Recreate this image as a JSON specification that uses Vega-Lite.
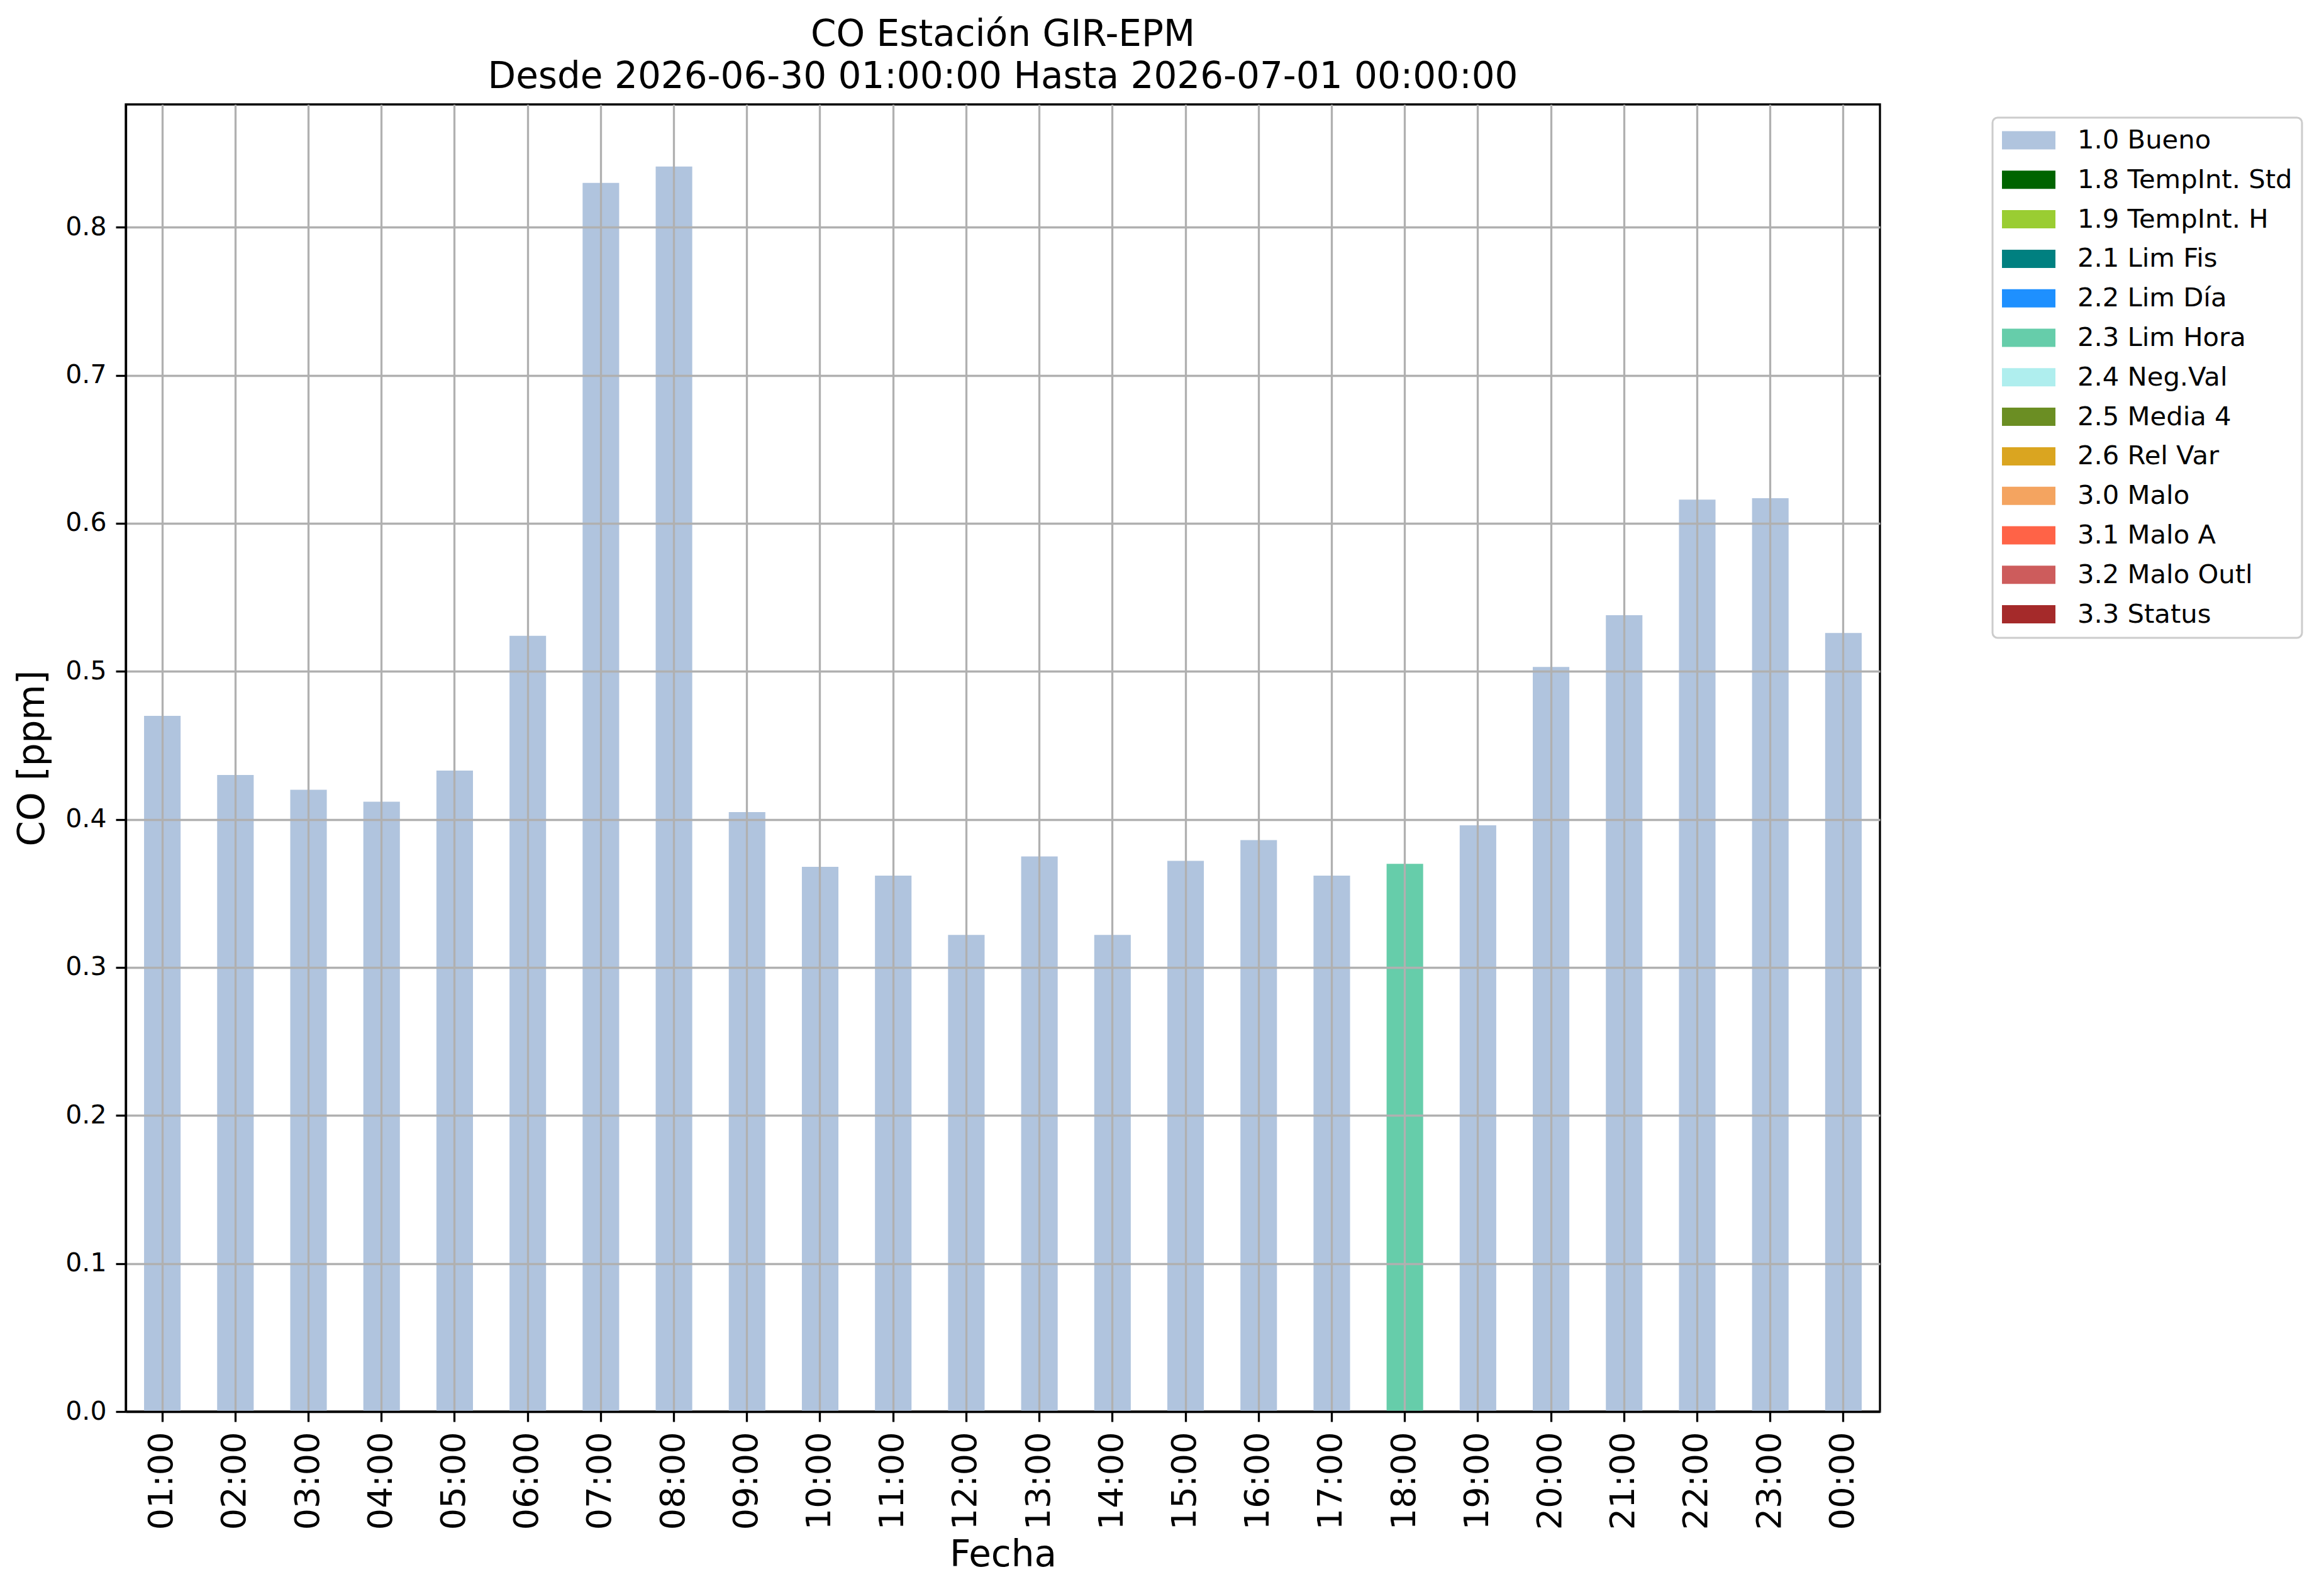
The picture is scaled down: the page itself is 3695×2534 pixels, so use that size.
{
  "$schema": "https://vega.github.io/schema/vega-lite/v6.json",
  "description": "CO hourly bars, coloured by quality flag.",
  "autosize": {"type": "none"},
  "padding": {"left": 200, "top": 166, "right": 706, "bottom": 290},
  "width": 2789,
  "height": 2078,
  "title": {
    "text": ["CO Estación GIR-EPM", "Desde 2026-06-30 01:00:00 Hasta 2026-07-01 00:00:00"],
    "fontSize": 58,
    "font": "DejaVu Sans",
    "fontWeight": "normal",
    "color": "black",
    "lineHeight": 67,
    "baseline": "bottom",
    "offset": -44,
    "anchor": "middle"
  },
  "data": {
    "values": [
      {"hora": "01:00", "co": 0.470, "flag": "1.0 Bueno"},
      {"hora": "02:00", "co": 0.430, "flag": "1.0 Bueno"},
      {"hora": "03:00", "co": 0.420, "flag": "1.0 Bueno"},
      {"hora": "04:00", "co": 0.412, "flag": "1.0 Bueno"},
      {"hora": "05:00", "co": 0.433, "flag": "1.0 Bueno"},
      {"hora": "06:00", "co": 0.524, "flag": "1.0 Bueno"},
      {"hora": "07:00", "co": 0.830, "flag": "1.0 Bueno"},
      {"hora": "08:00", "co": 0.841, "flag": "1.0 Bueno"},
      {"hora": "09:00", "co": 0.405, "flag": "1.0 Bueno"},
      {"hora": "10:00", "co": 0.368, "flag": "1.0 Bueno"},
      {"hora": "11:00", "co": 0.362, "flag": "1.0 Bueno"},
      {"hora": "12:00", "co": 0.322, "flag": "1.0 Bueno"},
      {"hora": "13:00", "co": 0.375, "flag": "1.0 Bueno"},
      {"hora": "14:00", "co": 0.322, "flag": "1.0 Bueno"},
      {"hora": "15:00", "co": 0.372, "flag": "1.0 Bueno"},
      {"hora": "16:00", "co": 0.386, "flag": "1.0 Bueno"},
      {"hora": "17:00", "co": 0.362, "flag": "1.0 Bueno"},
      {"hora": "18:00", "co": 0.370, "flag": "2.3 Lim Hora"},
      {"hora": "19:00", "co": 0.396, "flag": "1.0 Bueno"},
      {"hora": "20:00", "co": 0.503, "flag": "1.0 Bueno"},
      {"hora": "21:00", "co": 0.538, "flag": "1.0 Bueno"},
      {"hora": "22:00", "co": 0.616, "flag": "1.0 Bueno"},
      {"hora": "23:00", "co": 0.617, "flag": "1.0 Bueno"},
      {"hora": "00:00", "co": 0.526, "flag": "1.0 Bueno"}
    ]
  },
  "mark": {"type": "bar"},
  "encoding": {
    "x": {
      "field": "hora",
      "type": "nominal",
      "sort": null,
      "scale": {"paddingInner": 0.5, "paddingOuter": 0.25},
      "axis": {
        "title": "Fecha",
        "zindex": 1,
        "labelAngle": 270,
        "labelFontSize": 54,
        "labelPadding": 16,
        "bandPosition": 0.5,
        "titlePadding": 12
      }
    },
    "y": {
      "field": "co",
      "type": "quantitative",
      "scale": {"domain": [0, 0.883], "nice": false},
      "axis": {
        "title": "CO [ppm]",
        "zindex": 1,
        "values": [0, 0.1, 0.2, 0.3, 0.4, 0.5, 0.6, 0.7, 0.8],
        "format": ".1f",
        "labelFontSize": 41,
        "labelPadding": 15,
        "titlePadding": 22
      }
    },
    "color": {
      "field": "flag",
      "type": "nominal",
      "scale": {
        "domain": ["1.0 Bueno", "1.8 TempInt. Std", "1.9 TempInt. H", "2.1 Lim Fis", "2.2 Lim Día", "2.3 Lim Hora", "2.4 Neg.Val", "2.5 Media 4", "2.6 Rel Var", "3.0 Malo", "3.1 Malo A", "3.2 Malo Outl", "3.3 Status"],
        "range": ["#B0C4DE", "#006400", "#9ACD32", "#008080", "#1E90FF", "#66CDAA", "#AFEEEE", "#6B8E23", "#DAA520", "#F4A460", "#FF6347", "#CD5C5C", "#A52A2A"]
      },
      "legend": {
        "title": null,
        "orient": "none",
        "legendX": 2968,
        "legendY": 21,
        "padding": 15,
        "strokeColor": "#cccccc",
        "fillColor": "white",
        "cornerRadius": 8,
        "symbolType": "M-1,-0.341H1V0.341H-1Z",
        "symbolSize": 7225,
        "symbolStrokeWidth": 0,
        "symbolOpacity": 1,
        "symbolOffset": 0,
        "clipHeight": 42,
        "rowPadding": 19.8,
        "labelOffset": 35,
        "labelFontSize": 41.7,
        "labelFont": "DejaVu Sans",
        "labelColor": "black",
        "labelLimit": 1000,
        "encode": {"legend": {"update": {"strokeWidth": {"value": 3}}}}
      }
    }
  },
  "config": {
    "font": "DejaVu Sans",
    "view": {"stroke": "black", "strokeWidth": 3.3},
    "axis": {
      "zindex": 1,
      "labelFont": "DejaVu Sans",
      "labelColor": "black",
      "titleFont": "DejaVu Sans",
      "titleFontSize": 58,
      "titleFontWeight": "normal",
      "titleColor": "black",
      "domainColor": "black",
      "domainWidth": 3.3,
      "tickColor": "black",
      "tickWidth": 3.3,
      "tickSize": 16,
      "grid": true,
      "gridColor": "#b0b0b0",
      "gridWidth": 3.3
    }
  }
}
